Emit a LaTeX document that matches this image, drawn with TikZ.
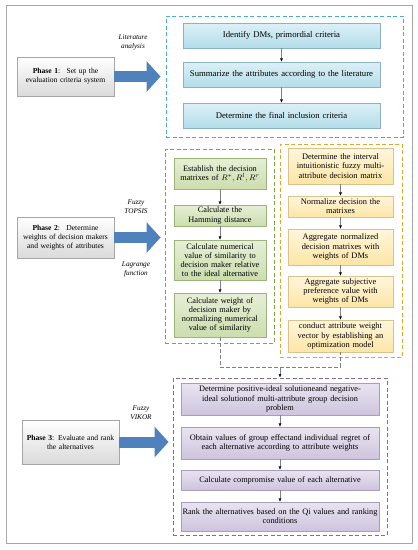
\documentclass[tikz,border=0pt]{standalone}
\usepackage{fontspec}
\setmainfont{Liberation Serif}
\usepackage{tikz}
\usetikzlibrary{arrows.meta}
\definecolor{phaseblue}{HTML}{4F81BD}
\definecolor{phasegray}{HTML}{A6A6A6}
\definecolor{phasebottom}{HTML}{DADADA}
\definecolor{tealdash}{HTML}{4BACC6}
\definecolor{tealtop}{HTML}{DCF0F6}
\definecolor{tealbottom}{HTML}{B3DDEA}
\definecolor{tealline}{HTML}{8DB3C2}
\definecolor{greendash}{HTML}{7FA646}
\definecolor{greentop}{HTML}{E6EFD6}
\definecolor{greenbottom}{HTML}{CCDDAE}
\definecolor{greenline}{HTML}{9DB57A}
\definecolor{golddash}{HTML}{E3A626}
\definecolor{goldtop}{HTML}{FFF6DC}
\definecolor{goldbottom}{HTML}{FDE5A6}
\definecolor{goldline}{HTML}{D8C28E}
\definecolor{violetdash}{HTML}{8566AA}
\definecolor{violettop}{HTML}{E9E4F0}
\definecolor{violetbottom}{HTML}{CEC4DE}
\definecolor{violetline}{HTML}{A99DBF}
\tikzset{
  phase/.style={draw=phasegray, top color=white, bottom color=phasebottom, minimum width=97pt, text width=93pt, align=center, inner sep=2pt, font=\fontsize{7.6}{9}\selectfont},
  method/.style={align=center, font=\fontsize{7.2}{8.6}\selectfont\itshape},
  tealbox/.style={draw=tealline, top color=tealtop, bottom color=tealbottom, minimum width=197pt, text width=193pt, align=center, inner sep=2pt, font=\fontsize{8.7}{9.5}\selectfont},
  greenbox/.style={draw=greenline, top color=greentop, bottom color=greenbottom, minimum width=92pt, text width=90pt, align=center, inner sep=1pt, font=\fontsize{8.3}{9.2}\selectfont},
  goldbox/.style={draw=goldline, top color=goldtop, bottom color=goldbottom, minimum width=105pt, text width=102pt, align=center, inner sep=1.5pt, font=\fontsize{8.4}{9.2}\selectfont},
  violetbox/.style={draw=violetline, top color=violettop, bottom color=violetbottom, minimum width=198pt, text width=196pt, align=center, inner sep=1pt, font=\fontsize{8.3}{9.3}\selectfont},
  frame/.style={dashed, line width=0.9pt, dash pattern=on 4pt off 2.5pt, inner sep=0pt},
  flowarrow/.style={draw=gray, -{Latex[black,length=3.5pt,width=3pt]}},
  phasearrow/.style={draw=phaseblue, line width=11pt, -{Triangle[length=14pt,width=30pt]}}
}

\begin{document}
\begin{tikzpicture}[x=1pt, y=-1pt]
\useasboundingbox (0,0) rectangle (418,550);
\draw[phasegray, line width=0.8pt] (6,5) rectangle (412,543);

% Phase 1
\node[frame, draw=tealdash, minimum width=237pt, minimum height=121pt] (f1) at (284.5,76.5) {};
\node[tealbox, minimum height=25pt] (t1) at (281.5,35.5) {Identify DMs, primordial criteria};
\node[tealbox, minimum height=25pt] (t2) at (281.5,74.5) {Summarize the attributes according to the literature};
\node[tealbox, minimum height=25pt] (t3) at (281.5,115.5) {Determine the final inclusion criteria};
\draw[flowarrow] (t1) -- (t2);
\draw[flowarrow] (t2) -- (t3);
\node[phase, minimum height=39pt] (ph1) at (65.5,76.5) {\textbf{Phase 1}:~ Set up the\\evaluation criteria system};
\node[method] (lit) at (133,42.5) {Literature\\analysis};
\draw[phasearrow, shorten >=5pt] (ph1.east) -- (ph1.east -| f1.west);

% Phase 2
\node[frame, draw=greendash, minimum width=109pt, minimum height=194pt] (f2) at (219.5,246) {};
\node[greenbox, minimum height=31pt] (g1) at (220,173.5) {Establish the decision\\matrixes of $R^{*},R^{l},R^{r}$};
\node[greenbox, minimum height=21pt] (g2) at (220,215.5) {Calculate the\\Hamming distance};
\node[greenbox, minimum height=40pt] (g3) at (220,260) {Calculate numerical\\value of similarity to\\decision maker relative\\to the ideal alternative};
\node[greenbox, minimum height=44pt] (g4) at (220,315) {Calculate weight of\\decision maker by\\normalizing numerical\\value of similarity};
\draw[flowarrow] (g1) -- (g2);
\draw[flowarrow] (g2) -- (g3);
\draw[flowarrow] (g3) -- (g4);
\node[frame, draw=golddash, minimum width=122pt, minimum height=213pt] (f2b) at (341,250.5) {};
\node[goldbox, minimum height=36pt] (y1) at (340.5,166) {Determine the interval\\intuitionistic fuzzy multi-\\attribute decision matrix};
\node[goldbox, minimum height=21pt] (y2) at (340.5,206.5) {Normalize decision the\\matrixes};
\node[goldbox, minimum height=36pt] (y3) at (340.5,247) {Aggregate normalized\\decision matrixes with\\weights of DMs};
\node[goldbox, minimum height=31pt] (y4) at (340.5,291.5) {Aggregate subjective\\preference value with\\weights of DMs};
\node[goldbox, minimum height=32pt] (y5) at (340.5,336) {conduct attribute weight\\vector by establishing an\\optimization model};
\draw[flowarrow] (y1) -- (y2);
\draw[flowarrow] (y2) -- (y3);
\draw[flowarrow] (y3) -- (y4);
\draw[flowarrow] (y4) -- (y5);
\node[phase, minimum height=41pt] (ph2) at (65.5,237.5) {\textbf{Phase 2}:~ Determine\\weights of decision makers\\and weights of attributes};
\node[method] (topsis) at (136,206.5) {Fuzzy\\TOPSIS};
\node[method] (lagr) at (136,269.5) {Lagrange\\function};
\draw[phasearrow, shorten >=4pt] (ph2.east) -- (ph2.east -| f2.west);

% Phase 3
\node[frame, draw=violetdash, minimum width=214pt, minimum height=157pt] (f3) at (280,456.5) {};
\coordinate (join) at (280,367);
\draw[gray, dashed, dash pattern=on 4pt off 2pt, line width=0.7pt] (g4.south) |- (join) -| (y5.south);
\draw[flowarrow] (join) -- (f3.north);
\node[violetbox, minimum height=32pt] (v1) at (280,399) {Determine positive-ideal solutioneand negative-\\ideal solutionof multi-attribute group decision\\problem};
\node[violetbox, minimum height=32pt] (v2) at (280,443) {Obtain values of group effectand individual regret of\\each alternative according to attribute weights};
\node[violetbox, minimum height=20pt] (v3) at (280,480) {Calculate compromise value of each alternative};
\node[violetbox, minimum height=29pt] (v4) at (280,516.5) {Rank the alternatives based on the Qi values and ranking\\conditions};
\draw[flowarrow] (v1) -- (v2);
\draw[flowarrow] (v2) -- (v3);
\draw[flowarrow] (v3) -- (v4);
\node[phase, minimum height=44pt] (ph3) at (70.5,442) {\textbf{Phase 3}: Evaluate and rank\\the alternatives};
\node[method] (vikor) at (141,412.5) {Fuzzy\\VIKOR};
\draw[phasearrow, shorten >=4pt] (ph3.east) -- (ph3.east -| f3.west);
\end{tikzpicture}
\end{document}
